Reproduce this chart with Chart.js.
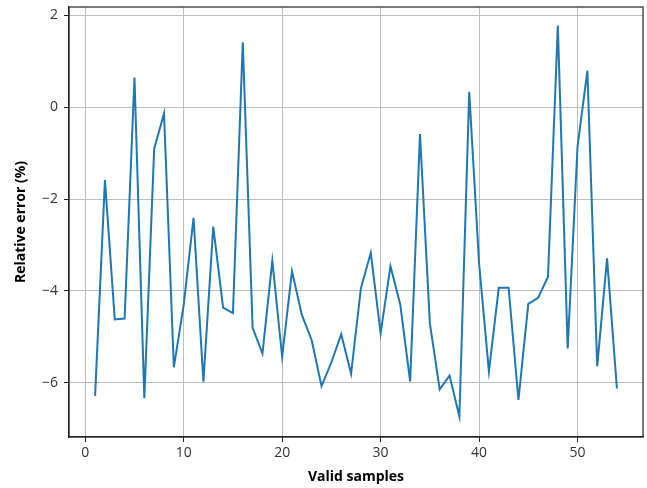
<!DOCTYPE html>
<html>
<head>
<meta charset="utf-8">
<script src="https://cdn.jsdelivr.net/npm/chart.js@4/dist/chart.umd.min.js"></script>
<style>
  html, body { margin: 0; padding: 0; background: #fff; }
  #wrap { width: 647px; height: 488px; }
</style>
</head>
<body>
<div id="wrap"><canvas id="errChart"></canvas></div>
<script>
// sample index 1..54
const samples = [];
for (let i = 1; i <= 54; i++) samples.push(i);

// relative error (%)
const relError = [
  -6.28, -1.59, -4.62, -4.60, 0.64, -6.33, -0.91, -0.14, -5.66, -4.30,
  -2.41, -5.97, -2.60, -4.36, -4.48, 1.41, -4.80, -5.36, -3.34, -5.43,
  -3.57, -4.52, -5.07, -6.07, -5.55, -4.94, -5.80, -3.94, -3.17, -4.92,
  -3.46, -4.30, -5.97, -0.59, -4.70, -6.14, -5.84, -6.73, 0.33, -3.40,
  -5.75, -3.93, -3.93, -6.37, -4.28, -4.15, -3.69, 1.77, -5.25, -0.86,
  0.79, -5.64, -3.29, -6.12
];

const xTicks = [0, 10, 20, 30, 40, 50];
const yTicks = [-6, -4, -2, 0, 2];

const points = samples.map((s, i) => ({ x: s, y: relError[i] }));

// frame around the plot area (top/right spines)
const frame = {
  id: "frame",
  afterDraw(chart) {
    const a = chart.chartArea, ctx = chart.ctx;
    ctx.save();
    ctx.strokeStyle = "#222";
    ctx.lineWidth = 1.2;
    ctx.strokeRect(a.left, a.top, a.right - a.left, a.bottom - a.top);
    ctx.restore();
  }
};

const tickFont = { family: "'Open Sans', 'DejaVu Sans', sans-serif", size: 14 };
const titleFont = { family: "'Open Sans', 'DejaVu Sans', sans-serif", size: 14, weight: "bold" };

new Chart(document.getElementById("errChart"), {
  type: "line",
  data: {
    datasets: [{
      data: points,
      borderColor: "#1f77b4",
      borderWidth: 2,
      pointRadius: 0,
      tension: 0,
      fill: false
    }]
  },
  options: {
    responsive: true,
    maintainAspectRatio: false,
    animation: false,
    layout: { padding: { left: 0, top: 7, right: 4, bottom: 0 } },
    plugins: { legend: { display: false }, tooltip: { enabled: false } },
    scales: {
      x: {
        type: "linear",
        min: -1.65,
        max: 56.65,
        afterBuildTicks: (s) => { s.ticks = xTicks.map(v => ({ value: v })); },
        afterFit: (s) => { s.height = 51; s.paddingLeft = 0; s.paddingRight = 0; },
        grid: { color: "#bdbdbd", lineWidth: 1, tickLength: 5, tickColor: "#222" },
        border: { color: "#222", width: 1.2 },
        ticks: { color: "#333", font: tickFont, padding: 3, maxRotation: 0 },
        title: { display: true, text: "Valid samples", color: "#000", font: titleFont, padding: { top: 0, bottom: 3 } }
      },
      y: {
        type: "linear",
        min: -7.175,
        max: 2.175,
        afterBuildTicks: (s) => { s.ticks = yTicks.map(v => ({ value: v })); },
        afterFit: (s) => { s.width = 69; s.paddingTop = 0; s.paddingBottom = 0; },
        grid: { color: "#bdbdbd", lineWidth: 1, tickLength: 5, tickColor: "#222" },
        border: { color: "#222", width: 1.2 },
        ticks: {
          color: "#333", font: tickFont, padding: 6,
          callback: (v) => String(v).replace("-", "\u2212")
        },
        title: { display: true, text: "Relative error (%)", color: "#000", font: titleFont, padding: { top: 13, bottom: 0 } }
      }
    }
  },
  plugins: [frame]
});
</script>
</body>
</html>
